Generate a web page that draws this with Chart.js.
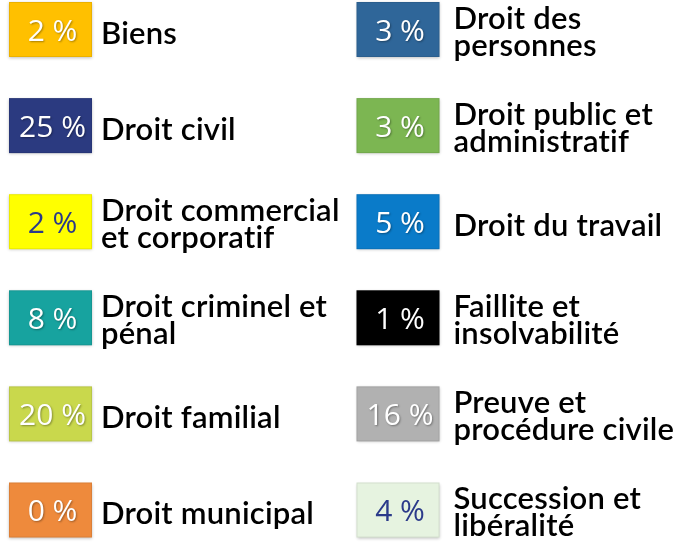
<!DOCTYPE html>
<html>
<head>
<meta charset="utf-8">
<script src="https://cdn.jsdelivr.net/npm/chart.js@4"></script>
<style>
  html, body { margin: 0; padding: 0; background: #fff; }
  #wrap { width: 683px; height: 544px; position: relative; }
</style>
</head>
<body>
<div id="wrap"><canvas id="chart"></canvas></div>
<script>
// Categories (two columns, six rows each) and their shares
const categories = [
  ['Biens'],
  ['Droit civil'],
  ['Droit commercial', 'et corporatif'],
  ['Droit criminel et', 'pénal'],
  ['Droit familial'],
  ['Droit municipal'],
  ['Droit des', 'personnes'],
  ['Droit public et', 'administratif'],
  ['Droit du travail'],
  ['Faillite et', 'insolvabilité'],
  ['Preuve et', 'procédure civile'],
  ['Succession et', 'libéralité']
];
const percents = [2, 25, 2, 8, 20, 0, 3, 3, 5, 1, 16, 4];
const boxColors = [
  '#FFC000', '#2B3A80', '#FFFF00', '#17A39F', '#C9D84C', '#EE8A3C',
  '#2F6699', '#7CB652', '#0A7BC9', '#000000', '#B1B1B1', '#E6F3E0'
];
const valueColors = [
  '#fff', '#fff', '#2B3A8A', '#fff', '#fff', '#fff',
  '#fff', '#fff', '#fff', '#fff', '#fff', '#2B3A8A'
];

const ROWS = 6;
const points = percents.map((v, i) => ({ x: Math.floor(i / ROWS), y: i % ROWS, v }));

/** Draws the coloured boxes + labels at the scaled point positions */
const legendBoxes = {
  id: 'legendBoxes',
  afterDatasetsDraw(chart) {
    const ctx = chart.ctx;
    const meta = chart.getDatasetMeta(0);
    const bw = 83, bh = 55;
    meta.data.forEach((pt, i) => {
      const cx = pt.x, cy = pt.y;
      const left = cx - bw / 2, top = cy - bh / 2;

      // box with soft shadow
      ctx.save();
      ctx.shadowColor = 'rgba(0,0,0,0.25)';
      ctx.shadowBlur = 3;
      ctx.shadowOffsetY = 1;
      ctx.fillStyle = boxColors[i];
      ctx.fillRect(left, top, bw, bh);
      ctx.restore();
      ctx.strokeStyle = 'rgba(0,0,0,0.08)';
      ctx.lineWidth = 1;
      ctx.strokeRect(left + 0.5, top + 0.5, bw - 1, bh - 1);

      // value
      ctx.save();
      ctx.font = '500 30px "Open Sans", sans-serif';
      ctx.textAlign = 'center';
      ctx.textBaseline = 'alphabetic';
      if (valueColors[i] === '#fff') {
        ctx.shadowColor = 'rgba(0,0,0,0.35)';
        ctx.shadowBlur = 2;
        ctx.shadowOffsetX = 1;
        ctx.shadowOffsetY = 1;
      }
      ctx.fillStyle = valueColors[i];
      ctx.fillText(percents[i] + ' %', cx + 2, cy + 11);
      ctx.restore();

      // label
      const lines = categories[i];
      const lx = left + bw + (points[i].x === 0 ? 9 : 14);
      ctx.save();
      ctx.font = '600 31px Lato, sans-serif';
      ctx.letterSpacing = '0.2px';
      ctx.fillStyle = '#000';
      ctx.textAlign = 'left';
      ctx.textBaseline = 'alphabetic';
      if (lines.length === 1) {
        ctx.fillText(lines[0], lx, cy + 14);
      } else {
        ctx.fillText(lines[0], lx, cy - 1);
        ctx.fillText(lines[1], lx, cy + 26);
      }
      ctx.restore();
    });
  }
};

new Chart(document.getElementById('chart'), {
  type: 'scatter',
  data: {
    datasets: [{ data: points, pointRadius: 0, pointHoverRadius: 0 }]
  },
  options: {
    responsive: true,
    maintainAspectRatio: false,
    animation: false,
    events: [],
    layout: { padding: { left: 50.5, right: 285, top: 29.5, bottom: 34 } },
    scales: {
      x: { type: 'linear', min: 0, max: 1, display: false },
      y: { type: 'linear', min: 0, max: ROWS - 1, reverse: true, display: false }
    },
    plugins: { legend: { display: false }, tooltip: { enabled: false } }
  },
  plugins: [legendBoxes]
});
</script>
</body>
</html>
